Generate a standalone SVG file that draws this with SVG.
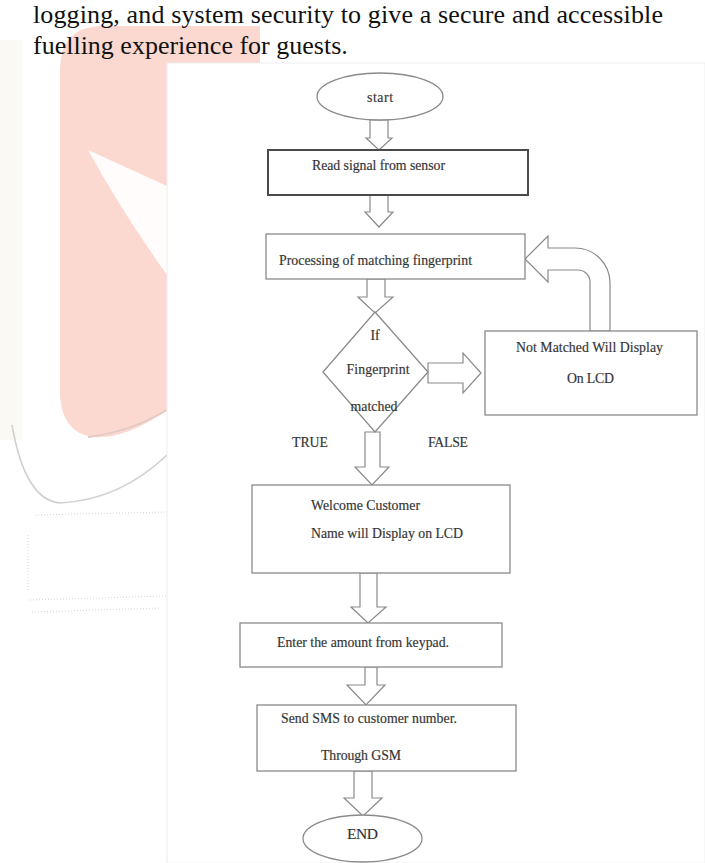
<svg xmlns="http://www.w3.org/2000/svg" width="705" height="863" viewBox="0 0 705 863">
  <defs>
    <style>
      .hdr { font-family: "Liberation Serif", "Times New Roman", serif; font-size: 26px; fill: #111; }
      .t { font-family: "Liberation Serif", "Times New Roman", serif; font-size: 13.8px; fill: #2e2e2e; stroke: #555; stroke-width: 0.2; }
      .box { fill: #fff; stroke: #8a8a8a; stroke-width: 1.3; }
      .boxd { fill: #fff; stroke: #4a4a4a; stroke-width: 2; }
      .arr { fill: #fff; stroke: #8a8a8a; stroke-width: 1.2; stroke-linejoin: miter; }
    </style>
  </defs>

  <!-- page background and watermark -->
  <rect x="0" y="0" width="705" height="863" fill="#ffffff"/>
  <g id="watermark">
    <rect x="0" y="40" width="22" height="400" fill="#f9f6ee" opacity="0.7"/>
    <path d="M 60 70 Q 60 28 100 26 L 260 26 L 260 400 L 167 410 Q 125 440 92 437 Q 62 432 60 395 Z" fill="#fcd9d0"/>
    <path d="M 88 150 L 167 186 L 167 275 Q 122 212 88 150 Z" fill="#ffffff" opacity="0.9"/>
    <path d="M 88 437 Q 130 432 167 410" fill="none" stroke="#e2cbc6" stroke-width="2"/>
    <path d="M 12 425 Q 25 500 60 503 Q 120 500 167 455" fill="none" stroke="#d0d0d0" stroke-width="1.6"/>
    <path d="M 35 515 L 167 512 M 28 535 L 28 592 M 30 600 L 167 596 M 32 612 L 160 608" fill="none" stroke="#d4d4d4" stroke-width="1" stroke-dasharray="1 2"/>
  </g>

  <!-- header paragraph -->
  <g id="header">
    <text class="hdr" x="33" y="23" textLength="630">logging, and system security to give a secure and accessible</text>
    <text class="hdr" x="33" y="54">fuelling experience for guests.</text>
  </g>

  <!-- white figure panel -->
  <rect x="167" y="63" width="538" height="800" fill="#ffffff" stroke="#eeeeee" stroke-width="1"/>

  <!-- connectors -->
  <g id="connectors">
    <path class="arr" d="M 370 120 L 388 120 L 388 138 L 392 138 L 379 150 L 366 138 L 370 138 Z"/>
    <path class="arr" d="M 370 195 L 388 195 L 388 212 L 393 212 L 379 227 L 365 212 L 370 212 Z"/>
    <path class="arr" d="M 367 279 L 385 279 L 385 297 L 393 297 L 375 313 L 358 297 L 367 297 Z"/>
    <path class="arr" d="M 428 363 L 463 363 L 463 353 L 481 373 L 463 393 L 463 383 L 428 383 Z"/>
    <path class="arr" d="M 525 259 L 548 236 L 548 248 L 575 248 A 35 35 0 0 1 610 283 L 610 331 L 590 331 L 590 282 A 12 12 0 0 0 578 270 L 548 270 L 548 282 Z"/>
    <path class="arr" d="M 365 432 L 380 432 L 380 467 L 389 467 L 372 485 L 355 467 L 365 467 Z"/>
    <path class="arr" d="M 360 573 L 377 573 L 377 607 L 386 607 L 368 623 L 351 607 L 360 607 Z"/>
    <path class="arr" d="M 365 667 L 377 667 L 377 685 L 385 685 L 366 705 L 347 685 L 365 685 Z"/>
    <path class="arr" d="M 354 771 L 372 771 L 372 798 L 382 798 L 363 816 L 344 798 L 354 798 Z"/>
  </g>

  <!-- nodes -->
  <g id="start">
    <ellipse class="box" cx="380" cy="96.5" rx="63" ry="23.5"/>
    <text class="t" x="380" y="102" text-anchor="middle" textLength="26">start</text>
  </g>
  <g id="read">
    <rect class="boxd" x="268" y="150" width="260" height="45"/>
    <text class="t" x="312" y="170" textLength="133">Read signal from sensor</text>
  </g>
  <g id="process">
    <rect class="box" x="266" y="234" width="259" height="45"/>
    <text class="t" x="279" y="265" textLength="193">Processing of matching fingerprint</text>
  </g>
  <g id="decision">
    <polygon class="box" points="375,312 428,372 375,432 323,372"/>
    <text class="t" x="375" y="340" text-anchor="middle">If</text>
    <text class="t" x="378" y="374" text-anchor="middle" textLength="63">Fingerprint</text>
    <text class="t" x="374" y="411" text-anchor="middle" textLength="47">matched</text>
  </g>
  <g id="notmatched">
    <rect class="box" x="485" y="331" width="212" height="84"/>
    <text class="t" x="516" y="352" textLength="147">Not Matched Will Display</text>
    <text class="t" x="567" y="383" textLength="47">On LCD</text>
  </g>
  <g id="labels">
    <text class="t" x="292" y="447" textLength="36">TRUE</text>
    <text class="t" x="428" y="447" textLength="40">FALSE</text>
  </g>
  <g id="welcome">
    <rect class="box" x="252" y="485" width="258" height="88"/>
    <text class="t" x="311" y="510" textLength="109">Welcome Customer</text>
    <text class="t" x="311" y="538" textLength="152">Name will Display on LCD</text>
  </g>
  <g id="enter">
    <rect class="box" x="240" y="623" width="262" height="44"/>
    <text class="t" x="277" y="647" textLength="172">Enter the amount from keypad.</text>
  </g>
  <g id="sms">
    <rect class="box" x="257" y="705" width="259" height="66"/>
    <text class="t" x="281" y="723" textLength="176">Send SMS to customer number.</text>
    <text class="t" x="321" y="760" textLength="80">Through GSM</text>
  </g>
  <g id="end">
    <ellipse class="box" cx="362.5" cy="838.5" rx="59.5" ry="23.5"/>
    <text class="t" x="362.5" y="839" text-anchor="middle" style="font-size:15.5px" textLength="31">END</text>
  </g>
</svg>
